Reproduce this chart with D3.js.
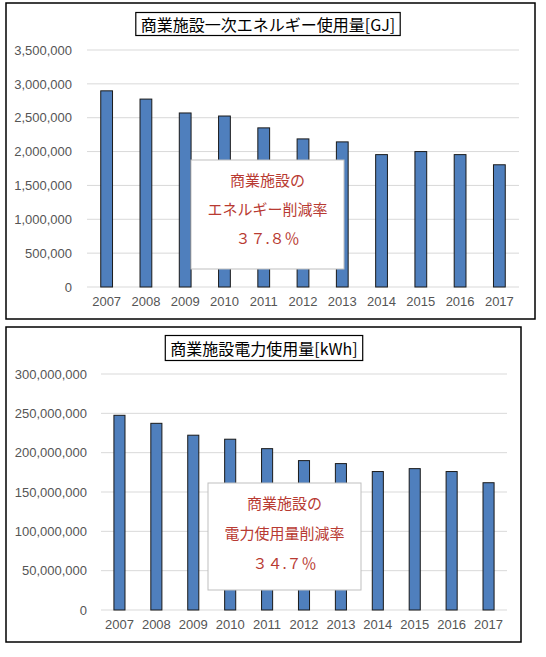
<!DOCTYPE html>
<meta charset="utf-8">
<script src="https://d3js.org/d3.v7.min.js"></script>
<style>
  body { margin: 0; background: #fff; }
  .tick text { font-family: "Liberation Sans", Arial, sans-serif; font-size: 13px; fill: #555; }
  .jp { font-family: "Noto Sans CJK JP", sans-serif; }
</style>
<div id="chart"></div>
<script>

// data
var years = ["2007", "2008", "2009", "2010", "2011", "2012", "2013", "2014", "2015", "2016", "2017"];
var energyGJ = [2897000, 2775000, 2570000, 2525000, 2350000, 2187000, 2143000, 1955000, 2000000, 1955000, 1805000];
var powerKWh = [247500000, 237300000, 222200000, 217100000, 205100000, 189900000, 186100000, 176000000, 179700000, 176000000, 161800000];
var energyTicks = [0, 500000, 1000000, 1500000, 2000000, 2500000, 3000000, 3500000];
var powerTicks = [0, 50000000, 100000000, 150000000, 200000000, 250000000, 300000000];
var energyTitle = "商業施設一次エネルギー使用量[GJ]";
var powerTitle = "商業施設電力使用量[kWh]";
var energyNote = ["商業施設の", "エネルギー削減率", "３７.８％"];
var powerNote = ["商業施設の", "電力使用量削減率", "３４.７％"];

var svg = d3.select("#chart").append("svg")
    .attr("width", 546)
    .attr("height", 657);

// one framed Excel style bar chart
function drawChart(c) {
  var g = svg.append("g");

  g.append("rect")
    .attr("x", c.frame[0]).attr("y", c.frame[1])
    .attr("width", c.frame[2]).attr("height", c.frame[3])
    .attr("fill", "#fff").attr("stroke", "#000").attr("stroke-width", 1.5);

  var x = d3.scaleBand()
    .domain(years)
    .range([c.left, c.right])
    .paddingInner(0.7)
    .paddingOuter(0.35);

  var y = d3.scaleLinear()
    .domain([0, d3.max(c.ticks)])
    .range([c.bottom, c.top]);

  // gridlines
  g.selectAll(".grid").data(c.ticks).enter().append("line")
    .attr("x1", c.left).attr("x2", c.right)
    .attr("y1", function(d) { return y(d); })
    .attr("y2", function(d) { return y(d); })
    .attr("stroke", "#d9d9d9").attr("stroke-width", 1);

  var yAxis = g.append("g")
    .attr("transform", "translate(" + c.left + ",0)")
    .call(d3.axisLeft(y).tickValues(c.ticks).tickSize(0).tickPadding(c.yPad).tickFormat(d3.format(",")));
  yAxis.select(".domain").remove();

  var xAxis = g.append("g")
    .attr("transform", "translate(0," + c.bottom + ")")
    .call(d3.axisBottom(x).tickSize(0).tickPadding(10));
  xAxis.select(".domain").remove();

  g.selectAll(".bar").data(c.values).enter().append("rect")
    .attr("x", function(d, i) { return x(years[i]); })
    .attr("y", function(d) { return y(d); })
    .attr("width", x.bandwidth())
    .attr("height", function(d) { return c.bottom - y(d); })
    .attr("fill", "#4f7fbd")
    .attr("stroke", "#1a1a1a").attr("stroke-width", 1);

  // title box
  var t = g.append("text")
    .attr("class", "jp")
    .attr("x", c.titleX).attr("y", c.titleY)
    .attr("text-anchor", "middle")
    .attr("dominant-baseline", "central")
    .attr("font-size", 16)
    .attr("fill", "#000")
    .text(c.title);
  var bb = t.node().getBBox();
  g.insert("rect", "text.jp")
    .attr("x", bb.x - 5).attr("y", c.titleY - c.titleH / 2)
    .attr("width", bb.width + 10).attr("height", c.titleH)
    .attr("fill", "#fff").attr("stroke", "#000").attr("stroke-width", 1.2);

  // reduction note
  g.append("rect")
    .attr("x", c.note[0]).attr("y", c.note[1])
    .attr("width", c.note[2]).attr("height", c.note[3])
    .attr("fill", "#fff").attr("stroke", "#bfbfbf").attr("stroke-width", 1);

  g.selectAll(".note").data(c.noteText).enter().append("text")
    .attr("class", "jp")
    .attr("x", c.note[0] + c.note[2] / 2)
    .attr("y", function(d, i) { return c.noteY[i]; })
    .attr("text-anchor", "middle")
    .attr("dominant-baseline", "central")
    .attr("font-size", 15)
    .attr("fill", "#b83a32")
    .text(function(d) { return d; });
}

drawChart({
  frame: [6, 3, 529, 316],
  left: 87, right: 519, top: 50, bottom: 287,
  yPad: 15,
  ticks: energyTicks, values: energyGJ,
  title: energyTitle, titleX: 268, titleY: 24, titleH: 23,
  note: [191, 160, 153, 109],
  noteText: energyNote, noteY: [179, 208, 237]
});

drawChart({
  frame: [6, 327, 515, 315],
  left: 101, right: 507, top: 374, bottom: 610,
  yPad: 14,
  ticks: powerTicks, values: powerKWh,
  title: powerTitle, titleX: 264, titleY: 348, titleH: 25,
  note: [208, 483, 153, 107],
  noteText: powerNote, noteY: [502, 532, 562]
});

</script>
